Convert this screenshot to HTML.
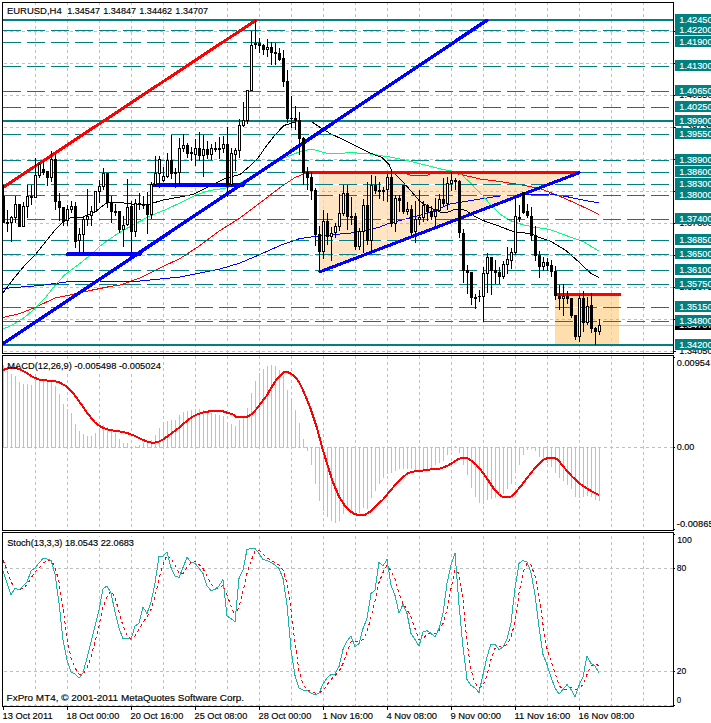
<!DOCTYPE html><html><head><meta charset="utf-8"><style>html,body{margin:0;padding:0;background:#fff}svg{display:block}</style></head><body><svg width="711" height="723" viewBox="0 0 711 723" shape-rendering="crispEdges" font-family="Liberation Sans, sans-serif">
<defs>
<clipPath id="cm"><rect x="3" y="3" width="670" height="350"/></clipPath>
<clipPath id="cmacd"><rect x="3" y="356" width="670" height="174"/></clipPath>
<clipPath id="cst"><rect x="3" y="533" width="670" height="173"/></clipPath>
<clipPath id="ctri"><polygon points="319,172 580,172 319,272"/></clipPath>
<clipPath id="crect"><rect x="555" y="294" width="64" height="51"/></clipPath>
<clipPath id="cfill"><polygon points="319,172 580,172 319,272"/><rect x="555" y="294" width="64" height="51"/></clipPath>
</defs>
<rect x="0" y="0" width="711" height="723" fill="#fff"/>
<g clip-path="url(#cm)">
<path d="M35.5,2V353" stroke="#c0c0c0" stroke-width="1" stroke-dasharray="3 3" fill="none"/>
<path d="M67.5,2V353" stroke="#c0c0c0" stroke-width="1" stroke-dasharray="3 3" fill="none"/>
<path d="M99.5,2V353" stroke="#c0c0c0" stroke-width="1" stroke-dasharray="3 3" fill="none"/>
<path d="M131.5,2V353" stroke="#c0c0c0" stroke-width="1" stroke-dasharray="3 3" fill="none"/>
<path d="M163.5,2V353" stroke="#c0c0c0" stroke-width="1" stroke-dasharray="3 3" fill="none"/>
<path d="M195.5,2V353" stroke="#c0c0c0" stroke-width="1" stroke-dasharray="3 3" fill="none"/>
<path d="M227.5,2V353" stroke="#c0c0c0" stroke-width="1" stroke-dasharray="3 3" fill="none"/>
<path d="M259.5,2V353" stroke="#c0c0c0" stroke-width="1" stroke-dasharray="3 3" fill="none"/>
<path d="M291.5,2V353" stroke="#c0c0c0" stroke-width="1" stroke-dasharray="3 3" fill="none"/>
<path d="M323.5,2V353" stroke="#c0c0c0" stroke-width="1" stroke-dasharray="3 3" fill="none"/>
<path d="M355.5,2V353" stroke="#c0c0c0" stroke-width="1" stroke-dasharray="3 3" fill="none"/>
<path d="M387.5,2V353" stroke="#c0c0c0" stroke-width="1" stroke-dasharray="3 3" fill="none"/>
<path d="M419.5,2V353" stroke="#c0c0c0" stroke-width="1" stroke-dasharray="3 3" fill="none"/>
<path d="M451.5,2V353" stroke="#c0c0c0" stroke-width="1" stroke-dasharray="3 3" fill="none"/>
<path d="M483.5,2V353" stroke="#c0c0c0" stroke-width="1" stroke-dasharray="3 3" fill="none"/>
<path d="M515.5,2V353" stroke="#c0c0c0" stroke-width="1" stroke-dasharray="3 3" fill="none"/>
<path d="M547.5,2V353" stroke="#c0c0c0" stroke-width="1" stroke-dasharray="3 3" fill="none"/>
<path d="M579.5,2V353" stroke="#c0c0c0" stroke-width="1" stroke-dasharray="3 3" fill="none"/>
<path d="M611.5,2V353" stroke="#c0c0c0" stroke-width="1" stroke-dasharray="3 3" fill="none"/>
<path d="M643.5,2V353" stroke="#c0c0c0" stroke-width="1" stroke-dasharray="3 3" fill="none"/>
<path d="M4,31.5H673" stroke="#c0c0c0" stroke-width="1" stroke-dasharray="3 3" fill="none"/>
<path d="M4,63.5H673" stroke="#c0c0c0" stroke-width="1" stroke-dasharray="3 3" fill="none"/>
<path d="M4,95.5H673" stroke="#c0c0c0" stroke-width="1" stroke-dasharray="3 3" fill="none"/>
<path d="M4,127.5H673" stroke="#c0c0c0" stroke-width="1" stroke-dasharray="3 3" fill="none"/>
<path d="M4,159.5H673" stroke="#c0c0c0" stroke-width="1" stroke-dasharray="3 3" fill="none"/>
<path d="M4,191.5H673" stroke="#c0c0c0" stroke-width="1" stroke-dasharray="3 3" fill="none"/>
<path d="M4,223.5H673" stroke="#c0c0c0" stroke-width="1" stroke-dasharray="3 3" fill="none"/>
<path d="M4,255.5H673" stroke="#c0c0c0" stroke-width="1" stroke-dasharray="3 3" fill="none"/>
<path d="M4,287.5H673" stroke="#c0c0c0" stroke-width="1" stroke-dasharray="3 3" fill="none"/>
<path d="M4,319.5H673" stroke="#c0c0c0" stroke-width="1" stroke-dasharray="3 3" fill="none"/>
<path d="M4,351.5H673" stroke="#c0c0c0" stroke-width="1" stroke-dasharray="3 3" fill="none"/>
<polygon points="319,172 580,172 319,272" fill="#ffe4c4"/>
<rect x="555" y="294" width="64" height="51" fill="#ffdead"/>
<g clip-path="url(#ctri)">
<path d="M323.5,2V353" stroke="#c0dbfb" stroke-width="1" stroke-dasharray="3 3" fill="none"/>
<path d="M355.5,2V353" stroke="#c0dbfb" stroke-width="1" stroke-dasharray="3 3" fill="none"/>
<path d="M387.5,2V353" stroke="#c0dbfb" stroke-width="1" stroke-dasharray="3 3" fill="none"/>
<path d="M419.5,2V353" stroke="#c0dbfb" stroke-width="1" stroke-dasharray="3 3" fill="none"/>
<path d="M451.5,2V353" stroke="#c0dbfb" stroke-width="1" stroke-dasharray="3 3" fill="none"/>
<path d="M483.5,2V353" stroke="#c0dbfb" stroke-width="1" stroke-dasharray="3 3" fill="none"/>
<path d="M515.5,2V353" stroke="#c0dbfb" stroke-width="1" stroke-dasharray="3 3" fill="none"/>
<path d="M547.5,2V353" stroke="#c0dbfb" stroke-width="1" stroke-dasharray="3 3" fill="none"/>
<path d="M579.5,2V353" stroke="#c0dbfb" stroke-width="1" stroke-dasharray="3 3" fill="none"/>
<path d="M4,191.5H673" stroke="#b4bcc8" stroke-width="1" stroke-dasharray="3 3" fill="none"/>
<path d="M4,223.5H673" stroke="#b4bcc8" stroke-width="1" stroke-dasharray="3 3" fill="none"/>
<path d="M4,255.5H673" stroke="#b4bcc8" stroke-width="1" stroke-dasharray="3 3" fill="none"/>
</g>
<g clip-path="url(#crect)">
<path d="M579.5,2V353" stroke="#c0e192" stroke-width="1" stroke-dasharray="3 3" fill="none"/>
<path d="M611.5,2V353" stroke="#c0e192" stroke-width="1" stroke-dasharray="3 3" fill="none"/>
<path d="M4,319.5H673" stroke="#b4bcc8" stroke-width="1" stroke-dasharray="3 3" fill="none"/>
</g>
<path d="M3,325.5H673" stroke="#c0c0c0" stroke-width="1" fill="none"/>
<polyline points="3,317.5 20,313.5 35,307.5 55,298 70,295 90,290.5 110,286.5 120,285 140,278 160,268 180,258.5 200,245.5 220,230.5 240,218 260,203 280,187.5 295,177.5 305,173.5 320,172.5 404,172.5 410,175 428,175 434,172.5 450,172.5 461,174.5 480,179 500,181.5 525,185.5 541,189 558,195.5 575,203 590,210 599,214.5" stroke="#ff0000" stroke-width="1" fill="none"/>
<polyline points="3,288.5 40,285.5 55,283.5 70,281.5 100,281 120,282 140,281 160,279 180,277 200,273 220,269 240,263 260,254.5 280,245.5 300,238.5 315,236.5 334,234.6 351,233 370,229.5 379,227.3 390,223 402,220 430,212.5 450,204 480,199 500,196 525,194.5 550,194 566,196.5 583,200 599,203" stroke="#0000ff" stroke-width="1" fill="none"/>
<polyline points="3,329 9,326.5 16,322.8 25,317 35,308.5 45,298 55,285.5 65,274.5 80,263.5 95,251 100,246 117,234 133,225 150,216 166,209.5 183,201.5 193,196.5 200,193.5 210,190.5 226,188 240,183 260,172 282,159 299,152 311,149 317,150.5 326,153 340,153.5 351,152.5 370,154 390,157 407,160.5 427,165.5 443,169.5 451,171 462,175 470,182.5 480,193 491,205 500,214 510,220.5 522,224.5 533,227 550,229.5 566,235.5 583,241.5 599,251" stroke="#00ff7f" stroke-width="1" fill="none"/>
<polyline points="3,293 15,277 25,265 35,255 47,240 55,230 63,222 70,218 83,217 95,212 100,208 108,202 117,202 131,204 150,204 163,200 180,197 193,194.5 210,186 226,178 240,174.5 250,166 258,158 266,146.5 275,135 284,125.5 292,123 300,121 312,122 321,128 331,134 342,139 356,146 370,153 382,157.5 389,164.5 392,171 397,176 402,181 411,191 420,201.5 431,208 440,212 446,213 453,210 459,209 466,210.5 475,216.5 483,220.5 493,224 500,226.5 513,231.5 525,233 531,233 536,236.5 550,241 566,250.5 580,263 591,273.5 599,277.5" stroke="#000000" stroke-width="1" fill="none"/>
<g clip-path="url(#cfill)">
<path d="M3,30.5H673" stroke="#fff" stroke-width="1" fill="none"/>
<path d="M3,42.5H673" stroke="#fff" stroke-width="1" fill="none"/>
<path d="M3,66.5H673" stroke="#fff" stroke-width="1" fill="none"/>
<path d="M3,91.5H673" stroke="#fff" stroke-width="1" fill="none"/>
<path d="M3,107.5H673" stroke="#fff" stroke-width="1" fill="none"/>
<path d="M3,134.5H673" stroke="#fff" stroke-width="1" fill="none"/>
<path d="M3,160.5H673" stroke="#fff" stroke-width="1" fill="none"/>
<path d="M3,172.5H673" stroke="#fff" stroke-width="1" fill="none"/>
<path d="M3,184.5H673" stroke="#fff" stroke-width="1" fill="none"/>
<path d="M3,195.5H673" stroke="#fff" stroke-width="1" fill="none"/>
<path d="M3,219.5H673" stroke="#fff" stroke-width="1" fill="none"/>
<path d="M3,240.5H673" stroke="#fff" stroke-width="1" fill="none"/>
<path d="M3,254.5H673" stroke="#fff" stroke-width="1" fill="none"/>
<path d="M3,270.5H673" stroke="#fff" stroke-width="1" fill="none"/>
<path d="M3,284.5H673" stroke="#fff" stroke-width="1" fill="none"/>
<path d="M3,307.5H673" stroke="#fff" stroke-width="1" fill="none"/>
<path d="M3,321.5H673" stroke="#fff" stroke-width="1" fill="none"/>
</g>
<rect x="3" y="19" width="670" height="2" fill="#008080"/>
<path d="M3,30.5H673" stroke="#008080" stroke-width="1" stroke-dasharray="18 6" fill="none"/>
<path d="M3,42.5H673" stroke="#008080" stroke-width="1" stroke-dasharray="18 6" fill="none"/>
<path d="M3,66.5H673" stroke="#008080" stroke-width="1" stroke-dasharray="18 6" fill="none"/>
<path d="M3,91.5H673" stroke="#008080" stroke-width="1" stroke-dasharray="18 6" fill="none"/>
<path d="M3,107.5H673" stroke="#008080" stroke-width="1" stroke-dasharray="18 6" fill="none"/>
<rect x="3" y="120" width="670" height="2" fill="#008080"/>
<path d="M3,134.5H673" stroke="#008080" stroke-width="1" stroke-dasharray="18 6" fill="none"/>
<path d="M3,160.5H673" stroke="#008080" stroke-width="1" stroke-dasharray="18 6" fill="none"/>
<path d="M3,172.5H673" stroke="#008080" stroke-width="1" stroke-dasharray="18 6" fill="none"/>
<path d="M3,184.5H673" stroke="#008080" stroke-width="1" stroke-dasharray="18 6" fill="none"/>
<path d="M3,195.5H673" stroke="#008080" stroke-width="1" stroke-dasharray="18 6" fill="none"/>
<path d="M3,219.5H673" stroke="#008080" stroke-width="1" stroke-dasharray="18 6" fill="none"/>
<path d="M3,240.5H673" stroke="#008080" stroke-width="1" stroke-dasharray="18 6" fill="none"/>
<path d="M3,254.5H673" stroke="#008080" stroke-width="1" stroke-dasharray="18 6" fill="none"/>
<path d="M3,270.5H673" stroke="#008080" stroke-width="1" stroke-dasharray="18 6" fill="none"/>
<path d="M3,284.5H673" stroke="#008080" stroke-width="1" stroke-dasharray="18 6" fill="none"/>
<path d="M3,307.5H673" stroke="#008080" stroke-width="1" stroke-dasharray="18 6" fill="none"/>
<path d="M3,321.5H673" stroke="#008080" stroke-width="1" stroke-dasharray="18 6" fill="none"/>
<rect x="3" y="344" width="670" height="2" fill="#008080"/>
<path d="M3,187.5L255.5,20.5" stroke="#ff0000" stroke-width="3" fill="none" stroke-linecap="round"/>
<path d="M306,172.5H579" stroke="#ff0000" stroke-width="3" fill="none" stroke-linecap="round"/>
<path d="M556,294.5H620" stroke="#ff0000" stroke-width="3" fill="none" stroke-linecap="round"/>
<path d="M3,343.8L486.8,20.3" stroke="#0000ff" stroke-width="3.4" fill="none" stroke-linecap="round"/>
<path d="M68,254H140" stroke="#0000ff" stroke-width="4" fill="none" stroke-linecap="round"/>
<path d="M154,185H243" stroke="#0000ff" stroke-width="4" fill="none" stroke-linecap="round"/>
<path d="M320,271.8L579,172.8" stroke="#0000ff" stroke-width="3.1" fill="none" stroke-linecap="round"/>
<rect x="3" y="185" width="1" height="38" fill="#000"/>
<rect x="2" y="196" width="3" height="27" fill="#000"/>
<rect x="7" y="210" width="1" height="22" fill="#000"/>
<rect x="6" y="222" width="3" height="2" fill="#000"/>
<rect x="11" y="216" width="1" height="26" fill="#000"/>
<rect x="10" y="217" width="3" height="6" fill="#000"/>
<rect x="11" y="218" width="1" height="4" fill="#fff"/>
<rect x="15" y="196" width="1" height="27" fill="#000"/>
<rect x="14" y="204" width="3" height="14" fill="#000"/>
<rect x="15" y="205" width="1" height="12" fill="#fff"/>
<rect x="19" y="204" width="1" height="23" fill="#000"/>
<rect x="18" y="204" width="3" height="23" fill="#000"/>
<rect x="23" y="202" width="1" height="25" fill="#000"/>
<rect x="22" y="206" width="3" height="21" fill="#000"/>
<rect x="23" y="207" width="1" height="19" fill="#fff"/>
<rect x="27" y="185" width="1" height="33" fill="#000"/>
<rect x="26" y="196" width="3" height="11" fill="#000"/>
<rect x="27" y="197" width="1" height="9" fill="#fff"/>
<rect x="31" y="185" width="1" height="20" fill="#000"/>
<rect x="30" y="196" width="3" height="2" fill="#000"/>
<rect x="35" y="158" width="1" height="40" fill="#000"/>
<rect x="34" y="175" width="3" height="23" fill="#000"/>
<rect x="35" y="176" width="1" height="21" fill="#fff"/>
<rect x="39" y="162" width="1" height="16" fill="#000"/>
<rect x="38" y="164" width="3" height="12" fill="#000"/>
<rect x="39" y="165" width="1" height="10" fill="#fff"/>
<rect x="43" y="161" width="1" height="14" fill="#000"/>
<rect x="42" y="169" width="3" height="4" fill="#000"/>
<rect x="47" y="171" width="1" height="15" fill="#000"/>
<rect x="46" y="171" width="3" height="7" fill="#000"/>
<rect x="51" y="151" width="1" height="31" fill="#000"/>
<rect x="50" y="159" width="3" height="19" fill="#000"/>
<rect x="51" y="160" width="1" height="17" fill="#fff"/>
<rect x="55" y="154" width="1" height="56" fill="#000"/>
<rect x="54" y="159" width="3" height="43" fill="#000"/>
<rect x="59" y="193" width="1" height="28" fill="#000"/>
<rect x="58" y="201" width="3" height="7" fill="#000"/>
<rect x="63" y="207" width="1" height="19" fill="#000"/>
<rect x="62" y="207" width="3" height="15" fill="#000"/>
<rect x="67" y="205" width="1" height="21" fill="#000"/>
<rect x="66" y="209" width="3" height="12" fill="#000"/>
<rect x="67" y="210" width="1" height="10" fill="#fff"/>
<rect x="71" y="201" width="1" height="12" fill="#000"/>
<rect x="70" y="206" width="3" height="4" fill="#000"/>
<rect x="71" y="207" width="1" height="2" fill="#fff"/>
<rect x="75" y="202" width="1" height="46" fill="#000"/>
<rect x="74" y="206" width="3" height="36" fill="#000"/>
<rect x="79" y="228" width="1" height="25" fill="#000"/>
<rect x="78" y="234" width="3" height="7" fill="#000"/>
<rect x="79" y="235" width="1" height="5" fill="#fff"/>
<rect x="83" y="216" width="1" height="38" fill="#000"/>
<rect x="82" y="219" width="3" height="16" fill="#000"/>
<rect x="83" y="220" width="1" height="14" fill="#fff"/>
<rect x="87" y="189" width="1" height="37" fill="#000"/>
<rect x="86" y="216" width="3" height="4" fill="#000"/>
<rect x="87" y="217" width="1" height="2" fill="#fff"/>
<rect x="91" y="206" width="1" height="20" fill="#000"/>
<rect x="90" y="211" width="3" height="5" fill="#000"/>
<rect x="91" y="212" width="1" height="3" fill="#fff"/>
<rect x="95" y="191" width="1" height="21" fill="#000"/>
<rect x="94" y="191" width="3" height="21" fill="#000"/>
<rect x="95" y="192" width="1" height="19" fill="#fff"/>
<rect x="99" y="180" width="1" height="23" fill="#000"/>
<rect x="98" y="186" width="3" height="6" fill="#000"/>
<rect x="99" y="187" width="1" height="4" fill="#fff"/>
<rect x="103" y="168" width="1" height="22" fill="#000"/>
<rect x="102" y="173" width="3" height="14" fill="#000"/>
<rect x="103" y="174" width="1" height="12" fill="#fff"/>
<rect x="107" y="173" width="1" height="35" fill="#000"/>
<rect x="106" y="173" width="3" height="29" fill="#000"/>
<rect x="111" y="196" width="1" height="27" fill="#000"/>
<rect x="110" y="202" width="3" height="10" fill="#000"/>
<rect x="115" y="204" width="1" height="12" fill="#000"/>
<rect x="114" y="211" width="3" height="2" fill="#000"/>
<rect x="119" y="211" width="1" height="22" fill="#000"/>
<rect x="118" y="211" width="3" height="19" fill="#000"/>
<rect x="123" y="216" width="1" height="31" fill="#000"/>
<rect x="122" y="225" width="3" height="5" fill="#000"/>
<rect x="123" y="226" width="1" height="3" fill="#fff"/>
<rect x="127" y="179" width="1" height="47" fill="#000"/>
<rect x="126" y="207" width="3" height="18" fill="#000"/>
<rect x="127" y="208" width="1" height="16" fill="#fff"/>
<rect x="131" y="201" width="1" height="52" fill="#000"/>
<rect x="130" y="206" width="3" height="26" fill="#000"/>
<rect x="135" y="199" width="1" height="38" fill="#000"/>
<rect x="134" y="203" width="3" height="29" fill="#000"/>
<rect x="135" y="204" width="1" height="27" fill="#fff"/>
<rect x="139" y="193" width="1" height="17" fill="#000"/>
<rect x="138" y="203" width="3" height="2" fill="#000"/>
<rect x="143" y="196" width="1" height="13" fill="#000"/>
<rect x="142" y="204" width="3" height="2" fill="#000"/>
<rect x="147" y="192" width="1" height="42" fill="#000"/>
<rect x="146" y="204" width="3" height="11" fill="#000"/>
<rect x="151" y="182" width="1" height="37" fill="#000"/>
<rect x="150" y="184" width="3" height="31" fill="#000"/>
<rect x="151" y="185" width="1" height="29" fill="#fff"/>
<rect x="155" y="156" width="1" height="30" fill="#000"/>
<rect x="154" y="173" width="3" height="12" fill="#000"/>
<rect x="155" y="174" width="1" height="10" fill="#fff"/>
<rect x="159" y="156" width="1" height="32" fill="#000"/>
<rect x="158" y="159" width="3" height="15" fill="#000"/>
<rect x="159" y="160" width="1" height="13" fill="#fff"/>
<rect x="163" y="167" width="1" height="15" fill="#000"/>
<rect x="162" y="176" width="3" height="5" fill="#000"/>
<rect x="163" y="177" width="1" height="3" fill="#fff"/>
<rect x="167" y="153" width="1" height="25" fill="#000"/>
<rect x="166" y="160" width="3" height="17" fill="#000"/>
<rect x="167" y="161" width="1" height="15" fill="#fff"/>
<rect x="171" y="135" width="1" height="44" fill="#000"/>
<rect x="170" y="160" width="3" height="14" fill="#000"/>
<rect x="175" y="168" width="1" height="20" fill="#000"/>
<rect x="174" y="172" width="3" height="2" fill="#000"/>
<rect x="179" y="138" width="1" height="48" fill="#000"/>
<rect x="178" y="148" width="3" height="25" fill="#000"/>
<rect x="179" y="149" width="1" height="23" fill="#fff"/>
<rect x="183" y="134" width="1" height="18" fill="#000"/>
<rect x="182" y="145" width="3" height="4" fill="#000"/>
<rect x="183" y="146" width="1" height="2" fill="#fff"/>
<rect x="187" y="143" width="1" height="15" fill="#000"/>
<rect x="186" y="145" width="3" height="9" fill="#000"/>
<rect x="191" y="147" width="1" height="14" fill="#000"/>
<rect x="190" y="152" width="3" height="2" fill="#000"/>
<rect x="195" y="139" width="1" height="27" fill="#000"/>
<rect x="194" y="148" width="3" height="7" fill="#000"/>
<rect x="195" y="149" width="1" height="5" fill="#fff"/>
<rect x="199" y="132" width="1" height="29" fill="#000"/>
<rect x="198" y="148" width="3" height="8" fill="#000"/>
<rect x="203" y="135" width="1" height="42" fill="#000"/>
<rect x="202" y="149" width="3" height="7" fill="#000"/>
<rect x="203" y="150" width="1" height="5" fill="#fff"/>
<rect x="207" y="141" width="1" height="18" fill="#000"/>
<rect x="206" y="149" width="3" height="6" fill="#000"/>
<rect x="211" y="144" width="1" height="16" fill="#000"/>
<rect x="210" y="148" width="3" height="7" fill="#000"/>
<rect x="211" y="149" width="1" height="5" fill="#fff"/>
<rect x="215" y="142" width="1" height="10" fill="#000"/>
<rect x="214" y="148" width="3" height="2" fill="#000"/>
<rect x="219" y="137" width="1" height="22" fill="#000"/>
<rect x="218" y="148" width="3" height="2" fill="#000"/>
<rect x="223" y="136" width="1" height="17" fill="#000"/>
<rect x="222" y="144" width="3" height="5" fill="#000"/>
<rect x="223" y="145" width="1" height="3" fill="#fff"/>
<rect x="227" y="127" width="1" height="70" fill="#000"/>
<rect x="226" y="144" width="3" height="41" fill="#000"/>
<rect x="231" y="148" width="1" height="39" fill="#000"/>
<rect x="230" y="153" width="3" height="32" fill="#000"/>
<rect x="231" y="154" width="1" height="30" fill="#fff"/>
<rect x="235" y="148" width="1" height="23" fill="#000"/>
<rect x="234" y="150" width="3" height="5" fill="#000"/>
<rect x="235" y="151" width="1" height="3" fill="#fff"/>
<rect x="239" y="119" width="1" height="39" fill="#000"/>
<rect x="238" y="125" width="3" height="26" fill="#000"/>
<rect x="239" y="126" width="1" height="24" fill="#fff"/>
<rect x="243" y="102" width="1" height="25" fill="#000"/>
<rect x="242" y="120" width="3" height="6" fill="#000"/>
<rect x="243" y="121" width="1" height="4" fill="#fff"/>
<rect x="247" y="90" width="1" height="34" fill="#000"/>
<rect x="246" y="90" width="3" height="31" fill="#000"/>
<rect x="247" y="91" width="1" height="29" fill="#fff"/>
<rect x="251" y="31" width="1" height="60" fill="#000"/>
<rect x="250" y="45" width="3" height="46" fill="#000"/>
<rect x="251" y="46" width="1" height="44" fill="#fff"/>
<rect x="255" y="20" width="1" height="29" fill="#000"/>
<rect x="254" y="43" width="3" height="2" fill="#000"/>
<rect x="259" y="38" width="1" height="15" fill="#000"/>
<rect x="258" y="43" width="3" height="3" fill="#000"/>
<rect x="263" y="44" width="1" height="11" fill="#000"/>
<rect x="262" y="45" width="3" height="5" fill="#000"/>
<rect x="267" y="39" width="1" height="18" fill="#000"/>
<rect x="266" y="47" width="3" height="3" fill="#000"/>
<rect x="267" y="48" width="1" height="1" fill="#fff"/>
<rect x="271" y="42" width="1" height="23" fill="#000"/>
<rect x="270" y="47" width="3" height="6" fill="#000"/>
<rect x="275" y="43" width="1" height="22" fill="#000"/>
<rect x="274" y="52" width="3" height="2" fill="#000"/>
<rect x="279" y="48" width="1" height="13" fill="#000"/>
<rect x="278" y="53" width="3" height="7" fill="#000"/>
<rect x="283" y="50" width="1" height="37" fill="#000"/>
<rect x="282" y="58" width="3" height="24" fill="#000"/>
<rect x="287" y="70" width="1" height="53" fill="#000"/>
<rect x="286" y="81" width="3" height="38" fill="#000"/>
<rect x="291" y="96" width="1" height="32" fill="#000"/>
<rect x="290" y="118" width="3" height="1" fill="#000"/>
<rect x="295" y="106" width="1" height="24" fill="#000"/>
<rect x="294" y="118" width="3" height="3" fill="#000"/>
<rect x="299" y="112" width="1" height="43" fill="#000"/>
<rect x="298" y="120" width="3" height="19" fill="#000"/>
<rect x="303" y="137" width="1" height="48" fill="#000"/>
<rect x="302" y="138" width="3" height="35" fill="#000"/>
<rect x="307" y="167" width="1" height="23" fill="#000"/>
<rect x="306" y="172" width="3" height="6" fill="#000"/>
<rect x="311" y="172" width="1" height="28" fill="#000"/>
<rect x="310" y="177" width="3" height="14" fill="#000"/>
<rect x="315" y="188" width="1" height="58" fill="#000"/>
<rect x="314" y="190" width="3" height="45" fill="#000"/>
<rect x="319" y="226" width="1" height="46" fill="#000"/>
<rect x="318" y="234" width="3" height="18" fill="#000"/>
<rect x="323" y="210" width="1" height="49" fill="#000"/>
<rect x="322" y="221" width="3" height="31" fill="#000"/>
<rect x="323" y="222" width="1" height="29" fill="#fff"/>
<rect x="327" y="213" width="1" height="32" fill="#000"/>
<rect x="326" y="221" width="3" height="16" fill="#000"/>
<rect x="331" y="227" width="1" height="34" fill="#000"/>
<rect x="330" y="233" width="3" height="4" fill="#000"/>
<rect x="331" y="234" width="1" height="2" fill="#fff"/>
<rect x="335" y="223" width="1" height="15" fill="#000"/>
<rect x="334" y="226" width="3" height="7" fill="#000"/>
<rect x="335" y="227" width="1" height="5" fill="#fff"/>
<rect x="339" y="194" width="1" height="37" fill="#000"/>
<rect x="338" y="213" width="3" height="14" fill="#000"/>
<rect x="339" y="214" width="1" height="12" fill="#fff"/>
<rect x="343" y="185" width="1" height="31" fill="#000"/>
<rect x="342" y="193" width="3" height="21" fill="#000"/>
<rect x="343" y="194" width="1" height="19" fill="#fff"/>
<rect x="347" y="185" width="1" height="45" fill="#000"/>
<rect x="346" y="193" width="3" height="24" fill="#000"/>
<rect x="351" y="197" width="1" height="28" fill="#000"/>
<rect x="350" y="216" width="3" height="2" fill="#000"/>
<rect x="355" y="213" width="1" height="37" fill="#000"/>
<rect x="354" y="216" width="3" height="31" fill="#000"/>
<rect x="359" y="228" width="1" height="22" fill="#000"/>
<rect x="358" y="231" width="3" height="16" fill="#000"/>
<rect x="359" y="232" width="1" height="14" fill="#fff"/>
<rect x="363" y="199" width="1" height="54" fill="#000"/>
<rect x="362" y="205" width="3" height="27" fill="#000"/>
<rect x="363" y="206" width="1" height="25" fill="#fff"/>
<rect x="367" y="182" width="1" height="63" fill="#000"/>
<rect x="366" y="205" width="3" height="36" fill="#000"/>
<rect x="371" y="175" width="1" height="77" fill="#000"/>
<rect x="370" y="185" width="3" height="56" fill="#000"/>
<rect x="371" y="186" width="1" height="54" fill="#fff"/>
<rect x="375" y="176" width="1" height="18" fill="#000"/>
<rect x="374" y="185" width="3" height="6" fill="#000"/>
<rect x="379" y="182" width="1" height="17" fill="#000"/>
<rect x="378" y="190" width="3" height="2" fill="#000"/>
<rect x="383" y="187" width="1" height="14" fill="#000"/>
<rect x="382" y="190" width="3" height="2" fill="#000"/>
<rect x="387" y="174" width="1" height="28" fill="#000"/>
<rect x="386" y="177" width="3" height="13" fill="#000"/>
<rect x="387" y="178" width="1" height="11" fill="#fff"/>
<rect x="391" y="170" width="1" height="57" fill="#000"/>
<rect x="390" y="177" width="3" height="47" fill="#000"/>
<rect x="395" y="195" width="1" height="37" fill="#000"/>
<rect x="394" y="198" width="3" height="26" fill="#000"/>
<rect x="395" y="199" width="1" height="24" fill="#fff"/>
<rect x="399" y="195" width="1" height="17" fill="#000"/>
<rect x="398" y="198" width="3" height="3" fill="#000"/>
<rect x="403" y="185" width="1" height="29" fill="#000"/>
<rect x="402" y="185" width="3" height="27" fill="#000"/>
<rect x="407" y="202" width="1" height="13" fill="#000"/>
<rect x="406" y="209" width="3" height="3" fill="#000"/>
<rect x="407" y="210" width="1" height="1" fill="#fff"/>
<rect x="411" y="205" width="1" height="33" fill="#000"/>
<rect x="410" y="209" width="3" height="24" fill="#000"/>
<rect x="415" y="201" width="1" height="42" fill="#000"/>
<rect x="414" y="219" width="3" height="13" fill="#000"/>
<rect x="415" y="220" width="1" height="11" fill="#fff"/>
<rect x="419" y="190" width="1" height="35" fill="#000"/>
<rect x="418" y="217" width="3" height="3" fill="#000"/>
<rect x="419" y="218" width="1" height="1" fill="#fff"/>
<rect x="423" y="201" width="1" height="21" fill="#000"/>
<rect x="422" y="205" width="3" height="13" fill="#000"/>
<rect x="423" y="206" width="1" height="11" fill="#fff"/>
<rect x="427" y="204" width="1" height="17" fill="#000"/>
<rect x="426" y="205" width="3" height="7" fill="#000"/>
<rect x="431" y="206" width="1" height="14" fill="#000"/>
<rect x="430" y="211" width="3" height="6" fill="#000"/>
<rect x="435" y="198" width="1" height="28" fill="#000"/>
<rect x="434" y="211" width="3" height="6" fill="#000"/>
<rect x="435" y="212" width="1" height="4" fill="#fff"/>
<rect x="439" y="194" width="1" height="18" fill="#000"/>
<rect x="438" y="199" width="3" height="12" fill="#000"/>
<rect x="439" y="200" width="1" height="10" fill="#fff"/>
<rect x="443" y="178" width="1" height="29" fill="#000"/>
<rect x="442" y="199" width="3" height="5" fill="#000"/>
<rect x="447" y="177" width="1" height="33" fill="#000"/>
<rect x="446" y="183" width="3" height="21" fill="#000"/>
<rect x="447" y="184" width="1" height="19" fill="#fff"/>
<rect x="451" y="172" width="1" height="19" fill="#000"/>
<rect x="450" y="180" width="3" height="4" fill="#000"/>
<rect x="451" y="181" width="1" height="2" fill="#fff"/>
<rect x="455" y="178" width="1" height="12" fill="#000"/>
<rect x="454" y="180" width="3" height="2" fill="#000"/>
<rect x="459" y="180" width="1" height="58" fill="#000"/>
<rect x="458" y="181" width="3" height="52" fill="#000"/>
<rect x="463" y="229" width="1" height="54" fill="#000"/>
<rect x="462" y="233" width="3" height="38" fill="#000"/>
<rect x="467" y="265" width="1" height="29" fill="#000"/>
<rect x="466" y="270" width="3" height="3" fill="#000"/>
<rect x="471" y="272" width="1" height="33" fill="#000"/>
<rect x="470" y="272" width="3" height="26" fill="#000"/>
<rect x="475" y="294" width="1" height="15" fill="#000"/>
<rect x="474" y="297" width="3" height="2" fill="#000"/>
<rect x="479" y="290" width="1" height="12" fill="#000"/>
<rect x="478" y="296" width="3" height="1" fill="#000"/>
<rect x="483" y="267" width="1" height="55" fill="#000"/>
<rect x="482" y="273" width="3" height="24" fill="#000"/>
<rect x="483" y="274" width="1" height="22" fill="#fff"/>
<rect x="487" y="253" width="1" height="40" fill="#000"/>
<rect x="486" y="257" width="3" height="17" fill="#000"/>
<rect x="487" y="258" width="1" height="15" fill="#fff"/>
<rect x="491" y="257" width="1" height="38" fill="#000"/>
<rect x="490" y="257" width="3" height="14" fill="#000"/>
<rect x="495" y="260" width="1" height="24" fill="#000"/>
<rect x="494" y="270" width="3" height="3" fill="#000"/>
<rect x="499" y="267" width="1" height="17" fill="#000"/>
<rect x="498" y="272" width="3" height="5" fill="#000"/>
<rect x="503" y="261" width="1" height="18" fill="#000"/>
<rect x="502" y="264" width="3" height="13" fill="#000"/>
<rect x="503" y="265" width="1" height="11" fill="#fff"/>
<rect x="507" y="247" width="1" height="27" fill="#000"/>
<rect x="506" y="259" width="3" height="6" fill="#000"/>
<rect x="507" y="260" width="1" height="4" fill="#fff"/>
<rect x="511" y="248" width="1" height="21" fill="#000"/>
<rect x="510" y="252" width="3" height="9" fill="#000"/>
<rect x="511" y="253" width="1" height="7" fill="#fff"/>
<rect x="515" y="198" width="1" height="57" fill="#000"/>
<rect x="514" y="216" width="3" height="37" fill="#000"/>
<rect x="515" y="217" width="1" height="35" fill="#fff"/>
<rect x="519" y="205" width="1" height="17" fill="#000"/>
<rect x="518" y="217" width="3" height="2" fill="#000"/>
<rect x="523" y="192" width="1" height="22" fill="#000"/>
<rect x="522" y="192" width="3" height="21" fill="#000"/>
<rect x="527" y="204" width="1" height="14" fill="#000"/>
<rect x="526" y="211" width="3" height="5" fill="#000"/>
<rect x="531" y="207" width="1" height="34" fill="#000"/>
<rect x="530" y="216" width="3" height="20" fill="#000"/>
<rect x="535" y="226" width="1" height="35" fill="#000"/>
<rect x="534" y="235" width="3" height="21" fill="#000"/>
<rect x="539" y="251" width="1" height="27" fill="#000"/>
<rect x="538" y="255" width="3" height="12" fill="#000"/>
<rect x="543" y="257" width="1" height="14" fill="#000"/>
<rect x="542" y="262" width="3" height="5" fill="#000"/>
<rect x="543" y="263" width="1" height="3" fill="#fff"/>
<rect x="547" y="258" width="1" height="13" fill="#000"/>
<rect x="546" y="262" width="3" height="4" fill="#000"/>
<rect x="551" y="260" width="1" height="17" fill="#000"/>
<rect x="550" y="265" width="3" height="7" fill="#000"/>
<rect x="555" y="266" width="1" height="34" fill="#000"/>
<rect x="554" y="271" width="3" height="25" fill="#000"/>
<rect x="559" y="285" width="1" height="25" fill="#000"/>
<rect x="558" y="296" width="3" height="3" fill="#000"/>
<rect x="563" y="284" width="1" height="32" fill="#000"/>
<rect x="562" y="296" width="3" height="3" fill="#000"/>
<rect x="563" y="297" width="1" height="1" fill="#fff"/>
<rect x="567" y="291" width="1" height="13" fill="#000"/>
<rect x="566" y="296" width="3" height="3" fill="#000"/>
<rect x="571" y="298" width="1" height="20" fill="#000"/>
<rect x="570" y="298" width="3" height="18" fill="#000"/>
<rect x="575" y="315" width="1" height="25" fill="#000"/>
<rect x="574" y="315" width="3" height="22" fill="#000"/>
<rect x="579" y="295" width="1" height="47" fill="#000"/>
<rect x="578" y="298" width="3" height="39" fill="#000"/>
<rect x="579" y="299" width="1" height="37" fill="#fff"/>
<rect x="583" y="291" width="1" height="41" fill="#000"/>
<rect x="582" y="298" width="3" height="25" fill="#000"/>
<rect x="587" y="297" width="1" height="28" fill="#000"/>
<rect x="586" y="306" width="3" height="17" fill="#000"/>
<rect x="587" y="307" width="1" height="15" fill="#fff"/>
<rect x="591" y="293" width="1" height="40" fill="#000"/>
<rect x="590" y="305" width="3" height="24" fill="#000"/>
<rect x="595" y="327" width="1" height="18" fill="#000"/>
<rect x="594" y="328" width="3" height="4" fill="#000"/>
<rect x="599" y="319" width="1" height="16" fill="#000"/>
<rect x="598" y="325" width="3" height="7" fill="#000"/>
<rect x="599" y="326" width="1" height="5" fill="#fff"/>
</g>
<rect x="7" y="5" width="202" height="11" fill="#fff"/>
<text x="6.9" y="14" fill="#000" stroke="#000" stroke-width="0.15" font-size="9.8" textLength="54.8" lengthAdjust="spacingAndGlyphs">EURUSD,H4</text>
<text x="67.2" y="14" fill="#000" stroke="#000" stroke-width="0.15" font-size="9.8" textLength="32.8" lengthAdjust="spacingAndGlyphs">1.34547</text>
<text x="103.25" y="14" fill="#000" stroke="#000" stroke-width="0.15" font-size="9.8" textLength="32.8" lengthAdjust="spacingAndGlyphs">1.34847</text>
<text x="139.3" y="14" fill="#000" stroke="#000" stroke-width="0.15" font-size="9.8" textLength="32.8" lengthAdjust="spacingAndGlyphs">1.34462</text>
<text x="175.35" y="14" fill="#000" stroke="#000" stroke-width="0.15" font-size="9.8" textLength="32.8" lengthAdjust="spacingAndGlyphs">1.34707</text>
<g clip-path="url(#cmacd)">
<path d="M35.5,356V530" stroke="#c0c0c0" stroke-width="1" stroke-dasharray="3 3" fill="none"/>
<path d="M67.5,356V530" stroke="#c0c0c0" stroke-width="1" stroke-dasharray="3 3" fill="none"/>
<path d="M99.5,356V530" stroke="#c0c0c0" stroke-width="1" stroke-dasharray="3 3" fill="none"/>
<path d="M131.5,356V530" stroke="#c0c0c0" stroke-width="1" stroke-dasharray="3 3" fill="none"/>
<path d="M163.5,356V530" stroke="#c0c0c0" stroke-width="1" stroke-dasharray="3 3" fill="none"/>
<path d="M195.5,356V530" stroke="#c0c0c0" stroke-width="1" stroke-dasharray="3 3" fill="none"/>
<path d="M227.5,356V530" stroke="#c0c0c0" stroke-width="1" stroke-dasharray="3 3" fill="none"/>
<path d="M259.5,356V530" stroke="#c0c0c0" stroke-width="1" stroke-dasharray="3 3" fill="none"/>
<path d="M291.5,356V530" stroke="#c0c0c0" stroke-width="1" stroke-dasharray="3 3" fill="none"/>
<path d="M323.5,356V530" stroke="#c0c0c0" stroke-width="1" stroke-dasharray="3 3" fill="none"/>
<path d="M355.5,356V530" stroke="#c0c0c0" stroke-width="1" stroke-dasharray="3 3" fill="none"/>
<path d="M387.5,356V530" stroke="#c0c0c0" stroke-width="1" stroke-dasharray="3 3" fill="none"/>
<path d="M419.5,356V530" stroke="#c0c0c0" stroke-width="1" stroke-dasharray="3 3" fill="none"/>
<path d="M451.5,356V530" stroke="#c0c0c0" stroke-width="1" stroke-dasharray="3 3" fill="none"/>
<path d="M483.5,356V530" stroke="#c0c0c0" stroke-width="1" stroke-dasharray="3 3" fill="none"/>
<path d="M515.5,356V530" stroke="#c0c0c0" stroke-width="1" stroke-dasharray="3 3" fill="none"/>
<path d="M547.5,356V530" stroke="#c0c0c0" stroke-width="1" stroke-dasharray="3 3" fill="none"/>
<path d="M579.5,356V530" stroke="#c0c0c0" stroke-width="1" stroke-dasharray="3 3" fill="none"/>
<path d="M611.5,356V530" stroke="#c0c0c0" stroke-width="1" stroke-dasharray="3 3" fill="none"/>
<path d="M643.5,356V530" stroke="#c0c0c0" stroke-width="1" stroke-dasharray="3 3" fill="none"/>
<path d="M4,447.5H673" stroke="#c0c0c0" stroke-width="1" stroke-dasharray="3 3" fill="none"/>
<rect x="7" y="360" width="155" height="11" fill="#fff"/>
<rect x="3" y="365" width="1" height="83" fill="#c0c0c0"/>
<rect x="7" y="371" width="1" height="77" fill="#c0c0c0"/>
<rect x="11" y="374" width="1" height="74" fill="#c0c0c0"/>
<rect x="15" y="376" width="1" height="72" fill="#c0c0c0"/>
<rect x="19" y="382" width="1" height="66" fill="#c0c0c0"/>
<rect x="23" y="384" width="1" height="64" fill="#c0c0c0"/>
<rect x="27" y="384" width="1" height="64" fill="#c0c0c0"/>
<rect x="31" y="385" width="1" height="63" fill="#c0c0c0"/>
<rect x="35" y="381" width="1" height="67" fill="#c0c0c0"/>
<rect x="39" y="380" width="1" height="68" fill="#c0c0c0"/>
<rect x="43" y="380" width="1" height="68" fill="#c0c0c0"/>
<rect x="47" y="381" width="1" height="67" fill="#c0c0c0"/>
<rect x="51" y="382" width="1" height="66" fill="#c0c0c0"/>
<rect x="55" y="386" width="1" height="62" fill="#c0c0c0"/>
<rect x="59" y="394" width="1" height="54" fill="#c0c0c0"/>
<rect x="63" y="404" width="1" height="44" fill="#c0c0c0"/>
<rect x="67" y="409" width="1" height="39" fill="#c0c0c0"/>
<rect x="71" y="413" width="1" height="35" fill="#c0c0c0"/>
<rect x="75" y="424" width="1" height="24" fill="#c0c0c0"/>
<rect x="79" y="431" width="1" height="17" fill="#c0c0c0"/>
<rect x="83" y="434" width="1" height="14" fill="#c0c0c0"/>
<rect x="87" y="436" width="1" height="12" fill="#c0c0c0"/>
<rect x="91" y="436" width="1" height="12" fill="#c0c0c0"/>
<rect x="95" y="433" width="1" height="15" fill="#c0c0c0"/>
<rect x="99" y="429" width="1" height="19" fill="#c0c0c0"/>
<rect x="103" y="425" width="1" height="23" fill="#c0c0c0"/>
<rect x="107" y="427" width="1" height="21" fill="#c0c0c0"/>
<rect x="111" y="431" width="1" height="17" fill="#c0c0c0"/>
<rect x="115" y="433" width="1" height="15" fill="#c0c0c0"/>
<rect x="119" y="439" width="1" height="9" fill="#c0c0c0"/>
<rect x="123" y="443" width="1" height="5" fill="#c0c0c0"/>
<rect x="127" y="443" width="1" height="5" fill="#c0c0c0"/>
<rect x="131" y="446" width="1" height="2" fill="#c0c0c0"/>
<rect x="135" y="446" width="1" height="2" fill="#c0c0c0"/>
<rect x="139" y="445" width="1" height="3" fill="#c0c0c0"/>
<rect x="143" y="443" width="1" height="5" fill="#c0c0c0"/>
<rect x="147" y="442" width="1" height="6" fill="#c0c0c0"/>
<rect x="151" y="440" width="1" height="8" fill="#c0c0c0"/>
<rect x="155" y="435" width="1" height="13" fill="#c0c0c0"/>
<rect x="159" y="428" width="1" height="20" fill="#c0c0c0"/>
<rect x="163" y="422" width="1" height="26" fill="#c0c0c0"/>
<rect x="167" y="421" width="1" height="27" fill="#c0c0c0"/>
<rect x="171" y="420" width="1" height="28" fill="#c0c0c0"/>
<rect x="175" y="420" width="1" height="28" fill="#c0c0c0"/>
<rect x="179" y="415" width="1" height="33" fill="#c0c0c0"/>
<rect x="183" y="412" width="1" height="36" fill="#c0c0c0"/>
<rect x="187" y="411" width="1" height="37" fill="#c0c0c0"/>
<rect x="191" y="410" width="1" height="38" fill="#c0c0c0"/>
<rect x="195" y="409" width="1" height="39" fill="#c0c0c0"/>
<rect x="199" y="409" width="1" height="39" fill="#c0c0c0"/>
<rect x="203" y="410" width="1" height="38" fill="#c0c0c0"/>
<rect x="207" y="411" width="1" height="37" fill="#c0c0c0"/>
<rect x="211" y="413" width="1" height="35" fill="#c0c0c0"/>
<rect x="215" y="414" width="1" height="34" fill="#c0c0c0"/>
<rect x="219" y="415" width="1" height="33" fill="#c0c0c0"/>
<rect x="223" y="416" width="1" height="32" fill="#c0c0c0"/>
<rect x="227" y="422" width="1" height="26" fill="#c0c0c0"/>
<rect x="231" y="424" width="1" height="24" fill="#c0c0c0"/>
<rect x="235" y="426" width="1" height="22" fill="#c0c0c0"/>
<rect x="239" y="420" width="1" height="28" fill="#c0c0c0"/>
<rect x="243" y="418" width="1" height="30" fill="#c0c0c0"/>
<rect x="247" y="408" width="1" height="40" fill="#c0c0c0"/>
<rect x="251" y="393" width="1" height="55" fill="#c0c0c0"/>
<rect x="255" y="381" width="1" height="67" fill="#c0c0c0"/>
<rect x="259" y="373" width="1" height="75" fill="#c0c0c0"/>
<rect x="263" y="369" width="1" height="79" fill="#c0c0c0"/>
<rect x="267" y="366" width="1" height="82" fill="#c0c0c0"/>
<rect x="271" y="365" width="1" height="83" fill="#c0c0c0"/>
<rect x="275" y="366" width="1" height="82" fill="#c0c0c0"/>
<rect x="279" y="370" width="1" height="78" fill="#c0c0c0"/>
<rect x="283" y="376" width="1" height="72" fill="#c0c0c0"/>
<rect x="287" y="390" width="1" height="58" fill="#c0c0c0"/>
<rect x="291" y="399" width="1" height="49" fill="#c0c0c0"/>
<rect x="295" y="410" width="1" height="38" fill="#c0c0c0"/>
<rect x="299" y="423" width="1" height="25" fill="#c0c0c0"/>
<rect x="303" y="439" width="1" height="9" fill="#c0c0c0"/>
<rect x="307" y="447" width="1" height="4" fill="#c0c0c0"/>
<rect x="311" y="447" width="1" height="18" fill="#c0c0c0"/>
<rect x="315" y="447" width="1" height="37" fill="#c0c0c0"/>
<rect x="319" y="447" width="1" height="54" fill="#c0c0c0"/>
<rect x="323" y="447" width="1" height="64" fill="#c0c0c0"/>
<rect x="327" y="447" width="1" height="70" fill="#c0c0c0"/>
<rect x="331" y="447" width="1" height="74" fill="#c0c0c0"/>
<rect x="335" y="447" width="1" height="76" fill="#c0c0c0"/>
<rect x="339" y="447" width="1" height="74" fill="#c0c0c0"/>
<rect x="343" y="447" width="1" height="67" fill="#c0c0c0"/>
<rect x="347" y="447" width="1" height="64" fill="#c0c0c0"/>
<rect x="351" y="447" width="1" height="65" fill="#c0c0c0"/>
<rect x="355" y="447" width="1" height="67" fill="#c0c0c0"/>
<rect x="359" y="447" width="1" height="66" fill="#c0c0c0"/>
<rect x="363" y="447" width="1" height="61" fill="#c0c0c0"/>
<rect x="367" y="447" width="1" height="62" fill="#c0c0c0"/>
<rect x="371" y="447" width="1" height="51" fill="#c0c0c0"/>
<rect x="375" y="447" width="1" height="44" fill="#c0c0c0"/>
<rect x="379" y="447" width="1" height="37" fill="#c0c0c0"/>
<rect x="383" y="447" width="1" height="31" fill="#c0c0c0"/>
<rect x="387" y="447" width="1" height="27" fill="#c0c0c0"/>
<rect x="391" y="447" width="1" height="26" fill="#c0c0c0"/>
<rect x="395" y="447" width="1" height="24" fill="#c0c0c0"/>
<rect x="399" y="447" width="1" height="22" fill="#c0c0c0"/>
<rect x="403" y="447" width="1" height="22" fill="#c0c0c0"/>
<rect x="407" y="447" width="1" height="22" fill="#c0c0c0"/>
<rect x="411" y="447" width="1" height="22" fill="#c0c0c0"/>
<rect x="415" y="447" width="1" height="24" fill="#c0c0c0"/>
<rect x="419" y="447" width="1" height="23" fill="#c0c0c0"/>
<rect x="423" y="447" width="1" height="22" fill="#c0c0c0"/>
<rect x="427" y="447" width="1" height="22" fill="#c0c0c0"/>
<rect x="431" y="447" width="1" height="22" fill="#c0c0c0"/>
<rect x="435" y="447" width="1" height="18" fill="#c0c0c0"/>
<rect x="439" y="447" width="1" height="16" fill="#c0c0c0"/>
<rect x="443" y="447" width="1" height="14" fill="#c0c0c0"/>
<rect x="447" y="447" width="1" height="8" fill="#c0c0c0"/>
<rect x="451" y="447" width="1" height="4" fill="#c0c0c0"/>
<rect x="455" y="446" width="1" height="2" fill="#c0c0c0"/>
<rect x="459" y="447" width="1" height="6" fill="#c0c0c0"/>
<rect x="463" y="447" width="1" height="18" fill="#c0c0c0"/>
<rect x="467" y="447" width="1" height="28" fill="#c0c0c0"/>
<rect x="471" y="447" width="1" height="41" fill="#c0c0c0"/>
<rect x="475" y="447" width="1" height="50" fill="#c0c0c0"/>
<rect x="479" y="447" width="1" height="56" fill="#c0c0c0"/>
<rect x="483" y="447" width="1" height="57" fill="#c0c0c0"/>
<rect x="487" y="447" width="1" height="53" fill="#c0c0c0"/>
<rect x="491" y="447" width="1" height="52" fill="#c0c0c0"/>
<rect x="495" y="447" width="1" height="51" fill="#c0c0c0"/>
<rect x="499" y="447" width="1" height="48" fill="#c0c0c0"/>
<rect x="503" y="447" width="1" height="47" fill="#c0c0c0"/>
<rect x="507" y="447" width="1" height="42" fill="#c0c0c0"/>
<rect x="511" y="447" width="1" height="37" fill="#c0c0c0"/>
<rect x="515" y="447" width="1" height="26" fill="#c0c0c0"/>
<rect x="519" y="447" width="1" height="18" fill="#c0c0c0"/>
<rect x="523" y="447" width="1" height="8" fill="#c0c0c0"/>
<rect x="527" y="447" width="1" height="3" fill="#c0c0c0"/>
<rect x="531" y="447" width="1" height="2" fill="#c0c0c0"/>
<rect x="535" y="447" width="1" height="4" fill="#c0c0c0"/>
<rect x="539" y="447" width="1" height="10" fill="#c0c0c0"/>
<rect x="543" y="447" width="1" height="14" fill="#c0c0c0"/>
<rect x="547" y="447" width="1" height="16" fill="#c0c0c0"/>
<rect x="551" y="447" width="1" height="20" fill="#c0c0c0"/>
<rect x="555" y="447" width="1" height="26" fill="#c0c0c0"/>
<rect x="559" y="447" width="1" height="31" fill="#c0c0c0"/>
<rect x="563" y="447" width="1" height="34" fill="#c0c0c0"/>
<rect x="567" y="447" width="1" height="38" fill="#c0c0c0"/>
<rect x="571" y="447" width="1" height="42" fill="#c0c0c0"/>
<rect x="575" y="447" width="1" height="50" fill="#c0c0c0"/>
<rect x="579" y="447" width="1" height="51" fill="#c0c0c0"/>
<rect x="583" y="447" width="1" height="50" fill="#c0c0c0"/>
<rect x="587" y="447" width="1" height="49" fill="#c0c0c0"/>
<rect x="591" y="447" width="1" height="50" fill="#c0c0c0"/>
<rect x="595" y="447" width="1" height="53" fill="#c0c0c0"/>
<rect x="599" y="447" width="1" height="54" fill="#c0c0c0"/>
<polyline points="3,370 10,367.7 17,368.2 25,372 33,377 40,380 50,380.7 58,381.7 65,385.5 72,391.5 80,402.5 88,414 95,422.5 101,427 108,429.5 115,431 120,431.5 127,433 135,436 142,439.5 148,442 153,442.8 158,442 163,439.5 170,434.5 178,428.5 185,422.5 192,417 198,414 205,412 212,411 222,411 228,413 233,414.5 236,417 247,417 252,413.8 257,408.5 262,401.8 267,395.2 271,388.1 276,380.4 281,374.8 284,372.3 286,371.6 288,372.1 291.5,374.1 296,377.9 299.3,382.5 303,390.2 306.3,398 310.5,408.5 317,428 322,447 327,463.5 333,482.5 339,496.5 345,506 350,511 355,514.3 360,515 365,514.7 370,511.7 376,506 383,499.5 390,491 396,484 402,478 407,473.7 412,471.7 420,471 430,469.5 440,468.5 447,466 453,462.5 458,459 462,458 467,458 471,460.5 476,464.5 482,471.5 488,480 494,489 499,494.5 502,496.5 511,496.5 515,493 521,486 527,478 533,470.5 539,464 544,459.5 548,458 555,458 558,460 565,468.5 572,476.5 579,483 587,488.5 593,492 599,495" stroke="#ff0000" stroke-width="2" fill="none" stroke-linejoin="round"/>
<text x="7.3" y="369" fill="#000" stroke="#000" stroke-width="0.15" font-size="9.8" textLength="153.5" lengthAdjust="spacingAndGlyphs">MACD(12,26,9) -0.005498 -0.005024</text>
</g>
<g clip-path="url(#cst)">
<path d="M35.5,530V706" stroke="#c0c0c0" stroke-width="1" stroke-dasharray="3 3" fill="none"/>
<path d="M67.5,530V706" stroke="#c0c0c0" stroke-width="1" stroke-dasharray="3 3" fill="none"/>
<path d="M99.5,530V706" stroke="#c0c0c0" stroke-width="1" stroke-dasharray="3 3" fill="none"/>
<path d="M131.5,530V706" stroke="#c0c0c0" stroke-width="1" stroke-dasharray="3 3" fill="none"/>
<path d="M163.5,530V706" stroke="#c0c0c0" stroke-width="1" stroke-dasharray="3 3" fill="none"/>
<path d="M195.5,530V706" stroke="#c0c0c0" stroke-width="1" stroke-dasharray="3 3" fill="none"/>
<path d="M227.5,530V706" stroke="#c0c0c0" stroke-width="1" stroke-dasharray="3 3" fill="none"/>
<path d="M259.5,530V706" stroke="#c0c0c0" stroke-width="1" stroke-dasharray="3 3" fill="none"/>
<path d="M291.5,530V706" stroke="#c0c0c0" stroke-width="1" stroke-dasharray="3 3" fill="none"/>
<path d="M323.5,530V706" stroke="#c0c0c0" stroke-width="1" stroke-dasharray="3 3" fill="none"/>
<path d="M355.5,530V706" stroke="#c0c0c0" stroke-width="1" stroke-dasharray="3 3" fill="none"/>
<path d="M387.5,530V706" stroke="#c0c0c0" stroke-width="1" stroke-dasharray="3 3" fill="none"/>
<path d="M419.5,530V706" stroke="#c0c0c0" stroke-width="1" stroke-dasharray="3 3" fill="none"/>
<path d="M451.5,530V706" stroke="#c0c0c0" stroke-width="1" stroke-dasharray="3 3" fill="none"/>
<path d="M483.5,530V706" stroke="#c0c0c0" stroke-width="1" stroke-dasharray="3 3" fill="none"/>
<path d="M515.5,530V706" stroke="#c0c0c0" stroke-width="1" stroke-dasharray="3 3" fill="none"/>
<path d="M547.5,530V706" stroke="#c0c0c0" stroke-width="1" stroke-dasharray="3 3" fill="none"/>
<path d="M579.5,530V706" stroke="#c0c0c0" stroke-width="1" stroke-dasharray="3 3" fill="none"/>
<path d="M611.5,530V706" stroke="#c0c0c0" stroke-width="1" stroke-dasharray="3 3" fill="none"/>
<path d="M643.5,530V706" stroke="#c0c0c0" stroke-width="1" stroke-dasharray="3 3" fill="none"/>
<path d="M4,568.5H673" stroke="#c0c0c0" stroke-width="1" stroke-dasharray="3 3" fill="none"/>
<path d="M4,671.5H673" stroke="#c0c0c0" stroke-width="1" stroke-dasharray="3 3" fill="none"/>
<path d="M4,705.5H673" stroke="#c0c0c0" stroke-width="1" stroke-dasharray="3 3" fill="none"/>
<polyline points="3,560 7,570 11,582 15,588 19,590 23,588 27,585 31,578 35,572 39,568 43,563.5 47,560.5 51,560 55,567 59,582 63,608 67,638 71,658 75,668 79,674 83,674 87,668 91,657 95,642 99,626 103,607 107,597 111,591 115,597 119,612 123,626 127,635 131,639 135,636 139,629.5 143,622 147,617 151,609.5 155,597 159,578.5 163,565 167,555 171,558.5 175,565 179,573.5 183,573.5 187,567.5 191,562.5 195,561 199,564.5 203,568.5 207,576 211,583.5 215,588.5 219,588.5 223,585 227,595 231,606 235,616 239,607 243,591 247,573.5 251,561 255,551 259,550 263,554 267,558 271,560 275,562.5 279,565 283,570 287,583.5 291,609.5 295,643.5 299,671 303,684.5 307,689.5 311,691.5 315,693 319,693 323,690.5 327,685 331,679.5 335,675.5 339,671.5 343,663.5 347,652 351,642 355,641 359,642 363,639.5 367,632 371,617 375,601 379,582.5 383,572.5 387,565 391,571 395,579 399,593.5 403,603.5 407,609.5 411,617 415,628.5 419,639.5 423,638.5 427,634.5 431,632 435,633.5 439,631 443,623.5 447,609.5 451,588.5 455,570 459,573.5 463,600 467,642 471,669.5 475,683 479,688 483,685.5 487,675.5 491,659.5 495,648.5 499,646 503,646.5 507,644.5 511,637 515,622 519,593.5 523,572.5 527,563.5 531,565 535,576 539,596 543,624.5 547,648.5 551,661 555,673 559,685.5 563,689.5 567,689 571,687.5 575,689.5 579,689 583,684.5 587,674.5 591,666 595,663.5 599,666" stroke="#ff0000" stroke-width="1" fill="none" stroke-dasharray="3 3"/>
<polyline points="3,571 7,583 11,595 15,588 19,590 23,586 27,582 31,571 35,568 39,563 43,558.5 47,559 51,560.5 55,574 59,603 63,640 67,660 71,672 75,674 79,678 83,673 87,658 91,642 95,626 99,610 103,589 107,586 111,593 115,612 119,628 123,639 127,638 131,639.5 135,626 139,623.5 143,607 147,613.5 151,602 155,583.5 159,556 163,556 167,552 171,567.5 175,576 179,577.5 183,567.5 187,557.5 191,562 195,563.5 199,568 203,573.5 207,586 211,590.5 215,589.5 219,586 223,579.5 227,616 231,618.5 235,622 239,578.5 243,570 247,549.5 251,548.5 255,548.5 259,553.5 263,559.5 267,560.5 271,562.5 275,565 279,568.5 283,578.5 287,604.5 291,649.5 295,675.5 299,688 303,690 307,690.5 311,693 315,695 319,693 323,684 327,678 331,674.5 335,674 339,666.5 343,649.5 347,641 351,636 355,647 359,643.5 363,628.5 367,618.5 371,593.5 375,590 379,562.5 383,566 387,559.5 391,585 395,595.5 399,613 403,604.5 407,613.5 411,633.5 415,639.5 419,646 423,632 427,630.5 431,633.5 435,637 439,628.5 443,613.5 447,583.5 451,565 455,553 459,604.5 463,647 467,679.5 471,685.5 475,688 479,692.5 483,674.5 487,657 491,644 495,644 499,649.5 503,647 507,639.5 511,623 515,588 519,563.5 523,560.5 527,562 531,572.5 535,595 539,627 543,654.5 547,664.5 551,677 555,688 559,694 563,689.5 567,684.5 571,689.5 575,696.5 579,685.5 583,677 587,656 591,663.5 595,666 599,673" stroke="#20b2aa" stroke-width="1" fill="none"/>
</g>
<rect x="7" y="537" width="128" height="11" fill="#fff"/>
<text x="7.2" y="546" fill="#000" stroke="#000" stroke-width="0.15" font-size="9.8" textLength="126.8" lengthAdjust="spacingAndGlyphs">Stoch(13,3,3) 18.0543 22.0683</text>
<rect x="6" y="692" width="239" height="11" fill="#fff"/>
<text x="6.6" y="701" fill="#000" stroke="#000" stroke-width="0.15" font-size="9.8" textLength="237.5" lengthAdjust="spacingAndGlyphs">FxPro MT4, © 2001-2011 MetaQuotes Software Corp.</text>
<rect x="2" y="2" width="672" height="1" fill="#000"/>
<rect x="2" y="353" width="672" height="1" fill="#000"/>
<rect x="2" y="2" width="1" height="352" fill="#000"/>
<rect x="673" y="2" width="1" height="352" fill="#000"/>
<rect x="2" y="355" width="672" height="1" fill="#000"/>
<rect x="2" y="530" width="672" height="1" fill="#000"/>
<rect x="2" y="355" width="1" height="176" fill="#000"/>
<rect x="673" y="355" width="1" height="176" fill="#000"/>
<rect x="2" y="532" width="672" height="1" fill="#000"/>
<rect x="2" y="706" width="672" height="1" fill="#000"/>
<rect x="2" y="532" width="1" height="175" fill="#000"/>
<rect x="673" y="532" width="1" height="175" fill="#000"/>
<g clip-path="url(#cm2)">
</g>
<defs><clipPath id="cax"><rect x="674" y="0" width="37" height="354"/></clipPath></defs>
<g clip-path="url(#cax)">
<rect x="674" y="31" width="2" height="1" fill="#000"/>
<text x="679.3" y="33.7" fill="#000" stroke="#000" stroke-width="0.15" font-size="9.8" textLength="33.2" lengthAdjust="spacingAndGlyphs">1.42170</text>
<rect x="674" y="63" width="2" height="1" fill="#000"/>
<text x="679.3" y="65.7" fill="#000" stroke="#000" stroke-width="0.15" font-size="9.8" textLength="33.2" lengthAdjust="spacingAndGlyphs">1.41360</text>
<rect x="674" y="95" width="2" height="1" fill="#000"/>
<text x="679.3" y="97.7" fill="#000" stroke="#000" stroke-width="0.15" font-size="9.8" textLength="33.2" lengthAdjust="spacingAndGlyphs">1.40550</text>
<rect x="674" y="127" width="2" height="1" fill="#000"/>
<text x="679.3" y="129.7" fill="#000" stroke="#000" stroke-width="0.15" font-size="9.8" textLength="33.2" lengthAdjust="spacingAndGlyphs">1.39735</text>
<rect x="674" y="159" width="2" height="1" fill="#000"/>
<text x="679.3" y="161.7" fill="#000" stroke="#000" stroke-width="0.15" font-size="9.8" textLength="33.2" lengthAdjust="spacingAndGlyphs">1.38925</text>
<rect x="674" y="191" width="2" height="1" fill="#000"/>
<text x="679.3" y="193.7" fill="#000" stroke="#000" stroke-width="0.15" font-size="9.8" textLength="33.2" lengthAdjust="spacingAndGlyphs">1.38110</text>
<rect x="674" y="223" width="2" height="1" fill="#000"/>
<text x="679.3" y="225.7" fill="#000" stroke="#000" stroke-width="0.15" font-size="9.8" textLength="33.2" lengthAdjust="spacingAndGlyphs">1.37300</text>
<rect x="674" y="255" width="2" height="1" fill="#000"/>
<text x="679.3" y="257.7" fill="#000" stroke="#000" stroke-width="0.15" font-size="9.8" textLength="33.2" lengthAdjust="spacingAndGlyphs">1.36490</text>
<rect x="674" y="287" width="2" height="1" fill="#000"/>
<text x="679.3" y="289.7" fill="#000" stroke="#000" stroke-width="0.15" font-size="9.8" textLength="33.2" lengthAdjust="spacingAndGlyphs">1.35675</text>
<rect x="674" y="319" width="2" height="1" fill="#000"/>
<text x="679.3" y="321.7" fill="#000" stroke="#000" stroke-width="0.15" font-size="9.8" textLength="33.2" lengthAdjust="spacingAndGlyphs">1.34865</text>
<rect x="674" y="351" width="2" height="1" fill="#000"/>
<text x="679.3" y="353.7" fill="#000" stroke="#000" stroke-width="0.15" font-size="9.8" textLength="33.2" lengthAdjust="spacingAndGlyphs">1.34050</text>
<rect x="675" y="319" width="36" height="11" fill="#000"/>
<text x="679.3" y="327.7" fill="#fff" stroke="#fff" stroke-width="0.15" font-size="9.8" textLength="33.2" lengthAdjust="spacingAndGlyphs">1.34707</text>
<rect x="675" y="14" width="36" height="11" fill="#008080"/>
<text x="679.3" y="22.7" fill="#fff" stroke="#fff" stroke-width="0.15" font-size="9.8" textLength="33.2" lengthAdjust="spacingAndGlyphs">1.42450</text>
<rect x="675" y="24" width="36" height="11" fill="#008080"/>
<text x="679.3" y="32.7" fill="#fff" stroke="#fff" stroke-width="0.15" font-size="9.8" textLength="33.2" lengthAdjust="spacingAndGlyphs">1.42200</text>
<rect x="675" y="36" width="36" height="11" fill="#008080"/>
<text x="679.3" y="44.7" fill="#fff" stroke="#fff" stroke-width="0.15" font-size="9.8" textLength="33.2" lengthAdjust="spacingAndGlyphs">1.41900</text>
<rect x="675" y="60" width="36" height="11" fill="#008080"/>
<text x="679.3" y="68.7" fill="#fff" stroke="#fff" stroke-width="0.15" font-size="9.8" textLength="33.2" lengthAdjust="spacingAndGlyphs">1.41300</text>
<rect x="675" y="85" width="36" height="11" fill="#008080"/>
<text x="679.3" y="93.7" fill="#fff" stroke="#fff" stroke-width="0.15" font-size="9.8" textLength="33.2" lengthAdjust="spacingAndGlyphs">1.40650</text>
<rect x="675" y="101" width="36" height="11" fill="#008080"/>
<text x="679.3" y="109.7" fill="#fff" stroke="#fff" stroke-width="0.15" font-size="9.8" textLength="33.2" lengthAdjust="spacingAndGlyphs">1.40250</text>
<rect x="675" y="115" width="36" height="11" fill="#008080"/>
<text x="679.3" y="123.7" fill="#fff" stroke="#fff" stroke-width="0.15" font-size="9.8" textLength="33.2" lengthAdjust="spacingAndGlyphs">1.39900</text>
<rect x="675" y="128" width="36" height="11" fill="#008080"/>
<text x="679.3" y="136.7" fill="#fff" stroke="#fff" stroke-width="0.15" font-size="9.8" textLength="33.2" lengthAdjust="spacingAndGlyphs">1.39550</text>
<rect x="675" y="154" width="36" height="11" fill="#008080"/>
<text x="679.3" y="162.7" fill="#fff" stroke="#fff" stroke-width="0.15" font-size="9.8" textLength="33.2" lengthAdjust="spacingAndGlyphs">1.38900</text>
<rect x="675" y="166" width="36" height="11" fill="#008080"/>
<text x="679.3" y="174.7" fill="#fff" stroke="#fff" stroke-width="0.15" font-size="9.8" textLength="33.2" lengthAdjust="spacingAndGlyphs">1.38600</text>
<rect x="675" y="178" width="36" height="11" fill="#008080"/>
<text x="679.3" y="186.7" fill="#fff" stroke="#fff" stroke-width="0.15" font-size="9.8" textLength="33.2" lengthAdjust="spacingAndGlyphs">1.38300</text>
<rect x="675" y="189" width="36" height="11" fill="#008080"/>
<text x="679.3" y="197.7" fill="#fff" stroke="#fff" stroke-width="0.15" font-size="9.8" textLength="33.2" lengthAdjust="spacingAndGlyphs">1.38000</text>
<rect x="675" y="213" width="36" height="11" fill="#008080"/>
<text x="679.3" y="221.7" fill="#fff" stroke="#fff" stroke-width="0.15" font-size="9.8" textLength="33.2" lengthAdjust="spacingAndGlyphs">1.37400</text>
<rect x="675" y="234" width="36" height="11" fill="#008080"/>
<text x="679.3" y="242.7" fill="#fff" stroke="#fff" stroke-width="0.15" font-size="9.8" textLength="33.2" lengthAdjust="spacingAndGlyphs">1.36850</text>
<rect x="675" y="248" width="36" height="11" fill="#008080"/>
<text x="679.3" y="256.7" fill="#fff" stroke="#fff" stroke-width="0.15" font-size="9.8" textLength="33.2" lengthAdjust="spacingAndGlyphs">1.36500</text>
<rect x="675" y="264" width="36" height="11" fill="#008080"/>
<text x="679.3" y="272.7" fill="#fff" stroke="#fff" stroke-width="0.15" font-size="9.8" textLength="33.2" lengthAdjust="spacingAndGlyphs">1.36100</text>
<rect x="675" y="278" width="36" height="11" fill="#008080"/>
<text x="679.3" y="286.7" fill="#fff" stroke="#fff" stroke-width="0.15" font-size="9.8" textLength="33.2" lengthAdjust="spacingAndGlyphs">1.35750</text>
<rect x="675" y="301" width="36" height="11" fill="#008080"/>
<text x="679.3" y="309.7" fill="#fff" stroke="#fff" stroke-width="0.15" font-size="9.8" textLength="33.2" lengthAdjust="spacingAndGlyphs">1.35150</text>
<rect x="675" y="315" width="36" height="11" fill="#008080"/>
<text x="679.3" y="323.7" fill="#fff" stroke="#fff" stroke-width="0.15" font-size="9.8" textLength="33.2" lengthAdjust="spacingAndGlyphs">1.34800</text>
<rect x="675" y="339" width="36" height="11" fill="#008080"/>
<text x="679.3" y="347.7" fill="#fff" stroke="#fff" stroke-width="0.15" font-size="9.8" textLength="33.2" lengthAdjust="spacingAndGlyphs">1.34200</text>
</g>
<rect x="674" y="357" width="1" height="1" fill="#000"/>
<text x="676.8" y="365.7" fill="#000" stroke="#000" stroke-width="0.15" font-size="9.8" textLength="33.2" lengthAdjust="spacingAndGlyphs">0.00954</text>
<rect x="674" y="447" width="1" height="1" fill="#000"/>
<text x="676.8" y="449.7" fill="#000" stroke="#000" stroke-width="0.15" font-size="9.8" textLength="17.6" lengthAdjust="spacingAndGlyphs">0.00</text>
<rect x="674" y="529" width="1" height="1" fill="#000"/>
<text x="676.8" y="526.7" fill="#000" stroke="#000" stroke-width="0.15" font-size="9.8" textLength="36.8" lengthAdjust="spacingAndGlyphs">-0.00865</text>
<rect x="674" y="534" width="1" height="1" fill="#000"/>
<text x="677.2" y="542.7" fill="#000" stroke="#000" stroke-width="0.15" font-size="9.8" textLength="14.6" lengthAdjust="spacingAndGlyphs">100</text>
<rect x="674" y="568" width="1" height="1" fill="#000"/>
<text x="676.8" y="570.7" fill="#000" stroke="#000" stroke-width="0.15" font-size="9.8" textLength="9.5" lengthAdjust="spacingAndGlyphs">80</text>
<rect x="674" y="671" width="1" height="1" fill="#000"/>
<text x="676.8" y="673.7" fill="#000" stroke="#000" stroke-width="0.15" font-size="9.8" textLength="9.5" lengthAdjust="spacingAndGlyphs">20</text>
<rect x="674" y="705" width="1" height="1" fill="#000"/>
<text x="676.8" y="702.7" fill="#000" stroke="#000" stroke-width="0.15" font-size="9.8" textLength="4.4" lengthAdjust="spacingAndGlyphs">0</text>
<rect x="3" y="707" width="1" height="3" fill="#000"/>
<text x="2.5" y="719" fill="#000" stroke="#000" stroke-width="0.15" font-size="9.8" textLength="50.2" lengthAdjust="spacingAndGlyphs">13 Oct 2011</text>
<rect x="67" y="707" width="1" height="3" fill="#000"/>
<text x="66.5" y="719" fill="#000" stroke="#000" stroke-width="0.15" font-size="9.8" textLength="52.8" lengthAdjust="spacingAndGlyphs">18 Oct 00:00</text>
<rect x="131" y="707" width="1" height="3" fill="#000"/>
<text x="130.5" y="719" fill="#000" stroke="#000" stroke-width="0.15" font-size="9.8" textLength="52.8" lengthAdjust="spacingAndGlyphs">20 Oct 16:00</text>
<rect x="195" y="707" width="1" height="3" fill="#000"/>
<text x="194.5" y="719" fill="#000" stroke="#000" stroke-width="0.15" font-size="9.8" textLength="52.8" lengthAdjust="spacingAndGlyphs">25 Oct 08:00</text>
<rect x="259" y="707" width="1" height="3" fill="#000"/>
<text x="258.5" y="719" fill="#000" stroke="#000" stroke-width="0.15" font-size="9.8" textLength="52.8" lengthAdjust="spacingAndGlyphs">28 Oct 00:00</text>
<rect x="323" y="707" width="1" height="3" fill="#000"/>
<text x="322.5" y="719" fill="#000" stroke="#000" stroke-width="0.15" font-size="9.8" textLength="50.6" lengthAdjust="spacingAndGlyphs">1 Nov 16:00</text>
<rect x="387" y="707" width="1" height="3" fill="#000"/>
<text x="386.5" y="719" fill="#000" stroke="#000" stroke-width="0.15" font-size="9.8" textLength="50.6" lengthAdjust="spacingAndGlyphs">4 Nov 08:00</text>
<rect x="451" y="707" width="1" height="3" fill="#000"/>
<text x="450.5" y="719" fill="#000" stroke="#000" stroke-width="0.15" font-size="9.8" textLength="50.6" lengthAdjust="spacingAndGlyphs">9 Nov 00:00</text>
<rect x="515" y="707" width="1" height="3" fill="#000"/>
<text x="514.5" y="719" fill="#000" stroke="#000" stroke-width="0.15" font-size="9.8" textLength="55.8" lengthAdjust="spacingAndGlyphs">11 Nov 16:00</text>
<rect x="579" y="707" width="1" height="3" fill="#000"/>
<text x="578.5" y="719" fill="#000" stroke="#000" stroke-width="0.15" font-size="9.8" textLength="55.8" lengthAdjust="spacingAndGlyphs">16 Nov 08:00</text>
</svg></body></html>
